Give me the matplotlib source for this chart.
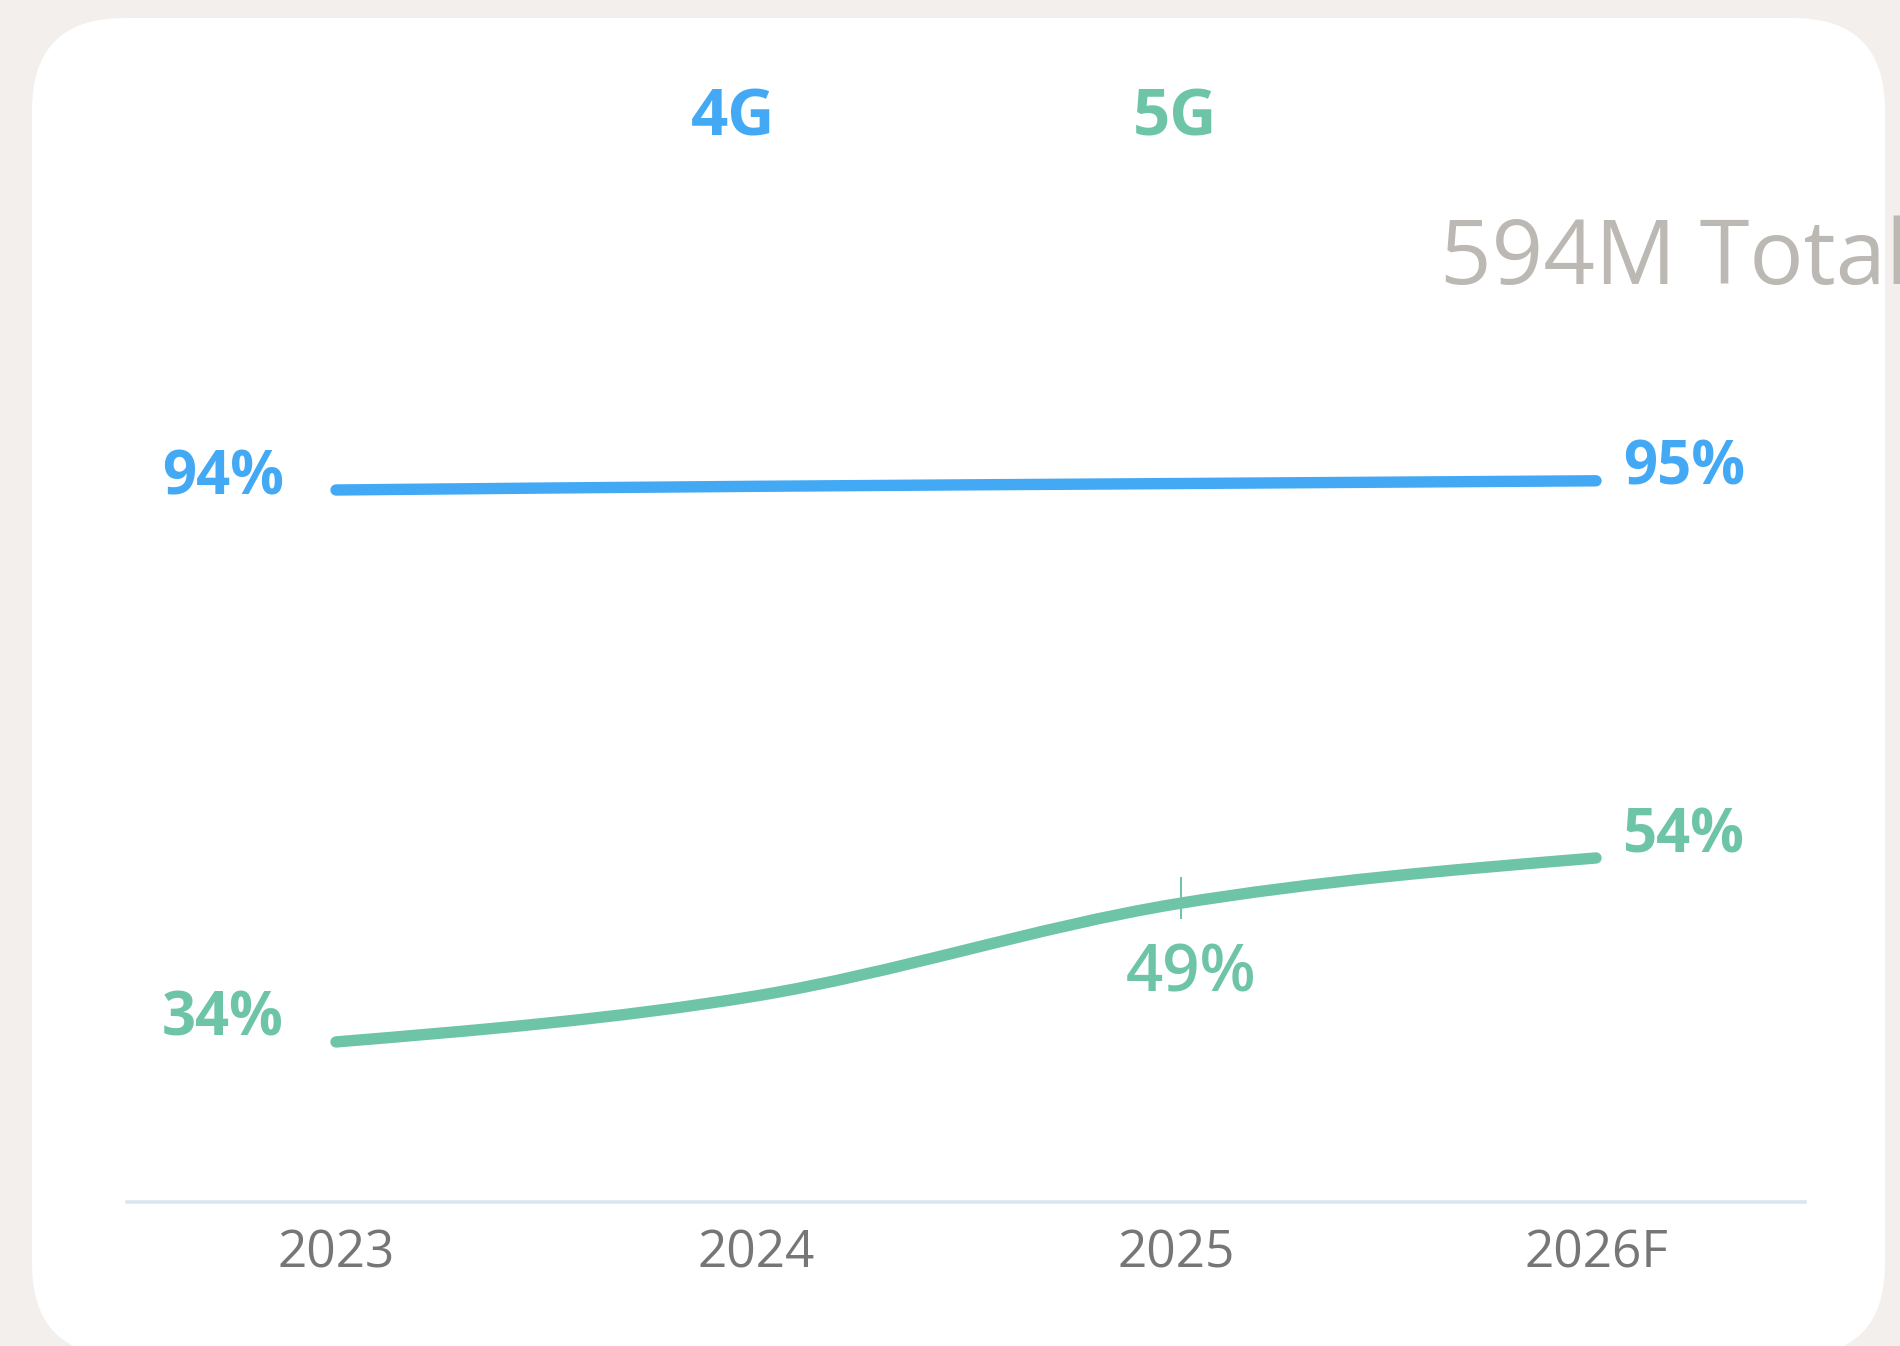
import numpy as np
import matplotlib
matplotlib.use("Agg")
import matplotlib.pyplot as plt
from matplotlib.patches import FancyBboxPatch, PathPatch
from matplotlib.path import Path

plt.rcParams['font.family'] = ['Open Sans', 'DejaVu Sans']

# ---------------- data ----------------
years = ["2023", "2024", "2025", "2026F"]
share_4g = [94, 94.4, 94.7, 95]
share_5g = [34, 39, 49, 54]
labels_4g = {0: "94%", 3: "95%"}
labels_5g = {0: "34%", 2: "49%", 3: "54%"}
series_names = ["4G", "5G"]
total_text = "594M Total"

# ---------------- style ----------------
BLUE = "#43a9f4"
GREEN = "#6dc4a6"
TICK = "#767676"
TOTAL = "#bcb8b3"
BG = "#f2efec"

W, H = 1900, 1346
fig = plt.figure(figsize=(W / 100, H / 100), dpi=100, facecolor=BG)

# background axes in pixel coordinates
bg = fig.add_axes([0, 0, 1, 1], zorder=0)
bg.set_xlim(0, W)
bg.set_ylim(H, 0)
bg.axis("off")
card = FancyBboxPatch((32, 18), 1853, 1338,
                      boxstyle="round,pad=0,rounding_size=92",
                      fc="white", ec="none")
bg.add_patch(card)

# legend-like series names
bg.text(733, 135, series_names[0], color=BLUE, fontsize=47, fontweight="bold",
        ha="center", va="baseline")
bg.text(1175, 135, series_names[1], color=GREEN, fontsize=47, fontweight="bold",
        ha="center", va="baseline")

tt = bg.text(1440, 284, total_text, color=TOTAL, fontsize=65,
             ha="left", va="baseline", clip_on=True)
tt.set_clip_path(card)

# main axes
ax_l, ax_r, ax_t, ax_b = 127, 1805, 150, 1202
ax = fig.add_axes([ax_l / W, (H - ax_b) / H, (ax_r - ax_l) / W, (ax_b - ax_t) / H],
                  zorder=2)
ax.set_facecolor("none")
x0_px, step_px = 336, 420
ax.set_xlim((ax_l - x0_px) / step_px, (ax_r - x0_px) / step_px)
ax.set_ylim(16.6, 130.96)
for s in ["top", "left", "right"]:
    ax.spines[s].set_visible(False)
ax.spines["bottom"].set_color("#dbe5f0")
ax.spines["bottom"].set_linewidth(2.6)
ax.set_yticks([])
ax.set_xticks(range(len(years)))
ax.set_xticklabels(years)
ax.tick_params(axis="x", length=0, pad=19, labelsize=37, labelcolor=TICK)


def monotone_path(xs, ys):
    xs = np.asarray(xs, float)
    ys = np.asarray(ys, float)
    n = len(xs)
    h = np.diff(xs)
    s = np.diff(ys) / h
    t = np.zeros(n)
    for i in range(1, n - 1):
        p = (s[i - 1] * h[i] + s[i] * h[i - 1]) / (h[i - 1] + h[i])
        t[i] = (np.sign(s[i - 1]) + np.sign(s[i])) * min(abs(s[i - 1]), abs(s[i]), 0.5 * abs(p))
    t[0] = (3 * s[0] - t[1]) / 2
    t[-1] = (3 * s[-1] - t[-2]) / 2
    verts = [(xs[0], ys[0])]
    codes = [Path.MOVETO]
    for i in range(n - 1):
        dx = h[i] / 3
        verts += [(xs[i] + dx, ys[i] + t[i] * dx),
                  (xs[i + 1] - dx, ys[i + 1] - t[i + 1] * dx),
                  (xs[i + 1], ys[i + 1])]
        codes += [Path.CURVE4] * 3
    return Path(verts, codes)


xs = np.arange(len(years))
for vals, col in [(share_4g, BLUE), (share_5g, GREEN)]:
    pp = PathPatch(monotone_path(xs, vals), fill=False, ec=col, lw=8.2,
                   capstyle="round", joinstyle="round", zorder=3)
    ax.add_patch(pp)

# hover marker on 5G 2025
ax.plot([2.012], [share_5g[2] + 0.6], marker="|", ms=30, mew=1.4, color=GREEN, zorder=4)

px = 0.72  # pixels -> points


def lab(i, vals, text, col, dx, dy, ha, weight="bold", size=43):
    ax.annotate(text, (xs[i], vals[i]), xytext=(dx * px, dy * px),
                textcoords="offset points", ha=ha, va="baseline",
                color=col, fontsize=size, fontweight=weight, zorder=5)


lab(0, share_4g, labels_4g[0], BLUE, -52, -5, "right")
lab(3, share_4g, labels_4g[3], BLUE, 27, -4, "left")
lab(0, share_5g, labels_5g[0], GREEN, -52, 6, "right")
lab(3, share_5g, labels_5g[3], GREEN, 26, 5, "left")
lab(2, share_5g, labels_5g[2], GREEN, 15, -88, "center", weight="semibold", size=47)

fig.savefig("out.png", dpi=100, facecolor=BG)
